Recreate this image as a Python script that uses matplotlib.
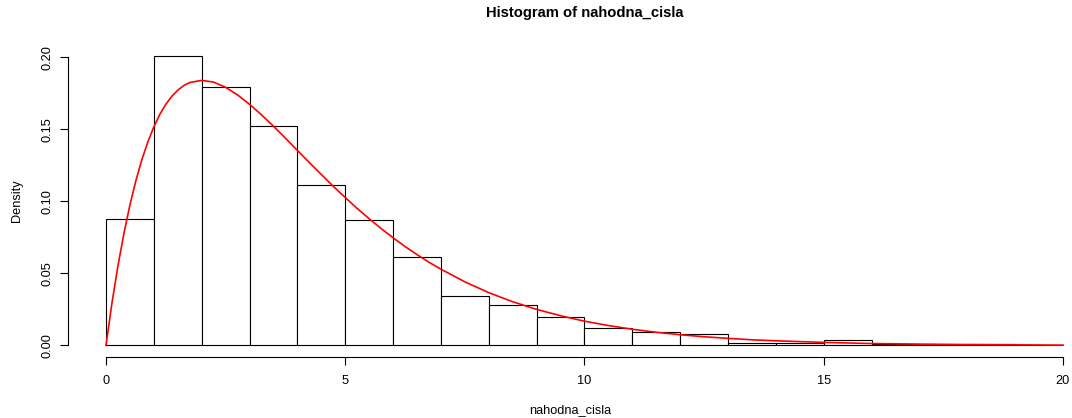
import numpy as np
import matplotlib
matplotlib.use('Agg')
import matplotlib.pyplot as plt

plt.rcParams['font.family'] = ['Liberation Sans', 'DejaVu Sans']

# histogram bins (width 1) and densities
bin_edges = list(range(0, 21))
density = [0.088, 0.201, 0.179, 0.152, 0.111, 0.087, 0.061, 0.034, 0.028, 0.020,
           0.012, 0.009, 0.008, 0.002, 0.002, 0.004, 0.001, 0.000, 0.001, 0.000]

# red density curve
curve_x = [0, 0.125, 0.25, 0.375, 0.5, 0.625, 0.75, 0.875, 1, 1.125, 1.25, 1.375, 1.5,
           1.625, 1.75, 2, 2.25, 2.5, 2.75, 3, 3.25, 3.5, 3.75, 4, 4.25, 4.5, 4.75,
           5, 5.25, 5.5, 5.75, 6, 6.25, 6.5, 6.75, 7, 7.5, 8, 8.5, 9, 9.5, 10, 10.5,
           11, 11.5, 12, 12.5, 13, 13.5, 14, 15, 16, 17, 18, 19, 20]
curve_y = [0, 0.0294, 0.0552, 0.0777, 0.0974, 0.1143, 0.1289, 0.1412, 0.1516, 0.1603,
           0.1673, 0.1728, 0.1771, 0.1803, 0.1824, 0.1839, 0.1827, 0.1791, 0.1738,
           0.1673, 0.1600, 0.1521, 0.1438, 0.1353, 0.1269, 0.1186, 0.1104, 0.1026,
           0.0950, 0.0879, 0.0811, 0.0747, 0.0686, 0.0630, 0.0577, 0.0529, 0.0441,
           0.0366, 0.0303, 0.0250, 0.0206, 0.0168, 0.0138, 0.0112, 0.0091, 0.0074,
           0.0060, 0.0049, 0.0039, 0.0032, 0.0021, 0.0013, 0.0009, 0.0006, 0.0004, 0.0002]

W, H = 1072, 418
fig = plt.figure(figsize=(W / 100, H / 100), dpi=100)

# plot region in pixels (R style, 4% padding)
left_px, right_px, top_px, bot_px = 67.7, 1072, 44.2, 357.0
ax = fig.add_axes([left_px / W, 1 - bot_px / H, (right_px - left_px) / W, (bot_px - top_px) / H])

ax.bar(bin_edges[:-1], density, width=1, align='edge', facecolor='white',
       edgecolor='black', linewidth=0.8)
ax.plot(curve_x, curve_y, color='red', linewidth=1.2)

ax.set_xlim(-0.8, (right_px - 106) / 47.85)
ax.set_ylim(-0.00804, 0.209)

for s in ['top', 'right']:
    ax.spines[s].set_visible(False)
ax.spines['left'].set_bounds(0, 0.2)
ax.spines['bottom'].set_bounds(0, 20)
ax.spines['left'].set_linewidth(0.8)
ax.spines['bottom'].set_linewidth(0.8)

ax.set_xticks([0, 5, 10, 15, 20])
ax.set_xticklabels(['0', '5', '10', '15', '20'])
ax.set_yticks([0, 0.05, 0.10, 0.15, 0.20])
ax.set_yticklabels(['0.00', '0.05', '0.10', '0.15', '0.20'], rotation=90, va='center')
ax.tick_params(direction='out', length=5.5, width=0.8, labelsize=9.2)
ax.tick_params(axis='x', pad=7.5)
ax.tick_params(axis='y', pad=4.5)

ax.set_xlabel('nahodna_cisla', fontsize=9.2, labelpad=12)
ax.set_ylabel('Density', fontsize=9.2, labelpad=13.5)
fig.text(585 / W, 1 - 13 / H, 'Histogram of nahodna_cisla', ha='center', va='center',
         fontsize=10.6, fontweight='bold')

fig.savefig('out.png', dpi=100)
